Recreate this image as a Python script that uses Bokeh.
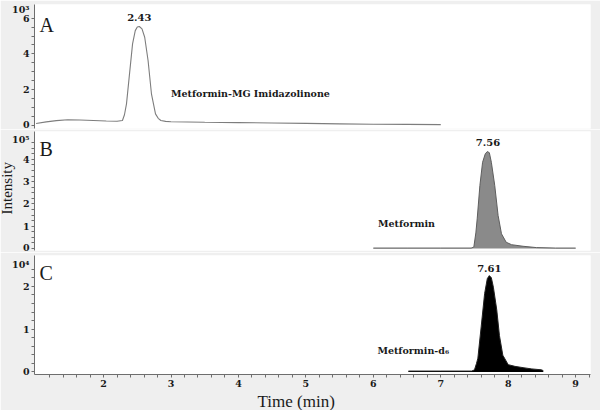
from bokeh.plotting import figure
from bokeh.layouts import column
from bokeh.models import Range1d, FixedTicker, Label, Title
from bokeh.embed import file_html
from bokeh.resources import INLINE

# ---------------- data ----------------
# Panel A: Metformin-MG Imidazolinone (intensity x 10^3)
time_a = [1.00, 1.15, 1.30, 1.47, 1.65, 1.85, 2.04, 2.20, 2.28, 2.31, 2.34, 2.38,
          2.43, 2.47, 2.50, 2.53, 2.57, 2.61, 2.66, 2.71, 2.77, 2.81, 2.85, 2.92,
          3.00, 3.50, 4.00, 4.50, 5.00, 5.50, 6.00, 6.50, 7.00]
int_a = [0.11, 0.20, 0.27, 0.32, 0.31, 0.28, 0.25, 0.24, 0.28, 0.60, 1.21, 2.70,
         4.56, 5.30, 5.50, 5.53, 5.40, 4.93, 3.63, 1.77, 0.65, 0.40, 0.28, 0.23,
         0.21, 0.18, 0.16, 0.14, 0.12, 0.09, 0.07, 0.06, 0.05]

# Panel B: Metformin (intensity x 10^5)
time_b = [6.00, 6.50, 7.00, 7.30, 7.45, 7.49, 7.52, 7.54, 7.58, 7.62, 7.66, 7.69,
          7.72, 7.75, 7.80, 7.85, 7.90, 7.97, 8.05, 8.22, 8.42, 8.70, 9.00]
int_b = [0.02, 0.02, 0.02, 0.02, 0.02, 0.06, 0.70, 1.33, 2.83, 3.87, 4.25, 4.35,
         4.30, 3.87, 2.83, 1.48, 0.66, 0.28, 0.17, 0.10, 0.04, 0.02, 0.02]

# Panel C: Metformin-d6 (intensity x 10^4)
time_c = [6.52, 7.00, 7.30, 7.46, 7.50, 7.53, 7.55, 7.60, 7.65, 7.69, 7.72, 7.75,
          7.78, 7.83, 7.87, 7.92, 8.00, 8.10, 8.22, 8.35, 8.49, 8.52]
int_c = [0.02, 0.02, 0.02, 0.02, 0.05, 0.20, 0.32, 1.07, 1.83, 2.18, 2.25, 2.20,
         1.98, 1.45, 0.85, 0.39, 0.17, 0.13, 0.10, 0.07, 0.05, 0.03]

panel_letters = ["A", "B", "C"]
scale_labels = ["10³", "10⁵", "10⁴"]
scale_label_pos = [6.5, 4.9, 2.5]
peak_labels = ["2.43", "7.56", "7.61"]
compound_names = ["Metformin-MG Imidazolinone", "Metformin", "Metformin-d₆"]
y_ticks_a = [0, 2, 4, 6]
y_ticks_b = [0, 1, 2, 3, 4]
y_ticks_c = [0, 1, 2]
x_ticks = [2, 3, 4, 5, 6, 7, 8, 9]
x_label = "Time (min)"
y_label = "Intensity"

# ---------------- styling ----------------
SERIF = "Liberation Serif"     # regular serif (Times-like)
SERIF_B = "DejaVu Serif"       # serif face available in bold
BG = "#efefef"
AXIS = "#6e6e6e"
TXT = "#1a1a1a"

x_range = Range1d(0.976, 9.22)


def style_axis(ax, ticks, minor, standoff, overrides=None):
    ax.ticker = FixedTicker(ticks=ticks, minor_ticks=minor)
    if overrides:
        ax.major_label_overrides = overrides
    ax.axis_line_color = AXIS
    ax.major_tick_line_color = None
    ax.minor_tick_line_color = AXIS
    ax.major_tick_in = 0
    ax.major_tick_out = 0
    ax.minor_tick_in = 0
    ax.minor_tick_out = 3
    ax.major_label_standoff = standoff
    ax.major_label_text_font = SERIF_B
    ax.major_label_text_font_style = "bold"
    ax.major_label_text_font_size = "9.5px"
    ax.major_label_text_color = TXT


def make_fig(height, y0, y1, top, bottom, ticks, minor, scale_i, show_x=False):
    p = figure(width=600, height=height, x_range=x_range, y_range=Range1d(y0, y1),
               output_backend="svg", toolbar_location=None,
               x_axis_location="below" if show_x else None,
               min_border_left=34, min_border_right=10,
               min_border_top=top, min_border_bottom=bottom,
               background_fill_color="white", border_fill_color=BG,
               outline_line_color=None)
    p.grid.visible = False
    top_tick = scale_label_pos[scale_i]
    style_axis(p.yaxis[0], ticks + [top_tick], minor + ticks, 2,
               {top_tick: scale_labels[scale_i]})
    if show_x:
        style_axis(p.xaxis[0], x_ticks, [1.2 + 0.2 * i for i in range(41)], 2)
    return p


def txt(p, x, y, text, size, align="left", baseline="middle", bold=True):
    p.add_layout(Label(x=x, y=y, text=text,
                       text_font=SERIF_B if bold else SERIF,
                       text_font_size=size,
                       text_font_style="bold" if bold else "normal",
                       text_color=TXT, text_align=align, text_baseline=baseline))


def side_title(p, text, place, size, offset=0, standoff=0):
    t = Title(text=text, align="left", text_font=SERIF, text_font_size=size,
              text_font_style="normal", text_color=TXT, offset=offset)
    try:
        t.standoff = standoff
    except Exception:
        t.standoff = 0
    p.add_layout(t, place)


minor_a = [0.5 * i for i in range(1, 13) if i % 4 != 0]
minor_b = [0.25 * i for i in range(1, 20) if i % 4 != 0]
minor_c = [0.2 * i for i in range(1, 13) if i % 5 != 0]

pa = make_fig(129, -0.168, 6.76, 4, 1, y_ticks_a, minor_a, 0)
pb = make_fig(123, -0.09, 5.25, 2, 2, y_ticks_b, minor_b, 1)
pc = make_fig(158, -0.06, 2.72, 3, 33, y_ticks_c, minor_c, 2, show_x=True)

# traces
pa.line(time_a, int_a, line_color="#7d7d7d", line_width=1.1)
pb.varea(x=time_b, y1=0, y2=int_b, fill_color="#8a8a8a")
pb.line(time_b, int_b, line_color="#5e5e5e", line_width=1)
pc.varea(x=time_c, y1=0, y2=int_c, fill_color="#000000")
pc.line(time_c, int_c, line_color="#222222", line_width=1)

# panel letters
txt(pa, 1.05, 5.59, panel_letters[0], "20px", baseline="alphabetic", bold=False)
txt(pb, 1.05, 4.48, panel_letters[1], "20px", baseline="alphabetic", bold=False)
txt(pc, 1.05, 2.30, panel_letters[2], "20px", baseline="alphabetic", bold=False)

# peak retention times
txt(pa, 2.53, 6.03, peak_labels[0], "10px", align="center")
txt(pb, 7.70, 4.77, peak_labels[1], "10px", align="center")
txt(pc, 7.72, 2.42, peak_labels[2], "10px", align="center")

# compound names
txt(pa, 3.00, 1.80, compound_names[0], "9.5px")
txt(pb, 6.07, 1.13, compound_names[1], "9.5px")
txt(pc, 6.06, 0.51, compound_names[2], "9.5px")

# axis titles
side_title(pb, y_label, "left", "15px", offset=36, standoff=-10)
side_title(pc, x_label, "below", "17px", offset=223)

layout = column(pa, pb, pc, spacing=0)
open("out.html", "w").write(file_html(layout, INLINE))
